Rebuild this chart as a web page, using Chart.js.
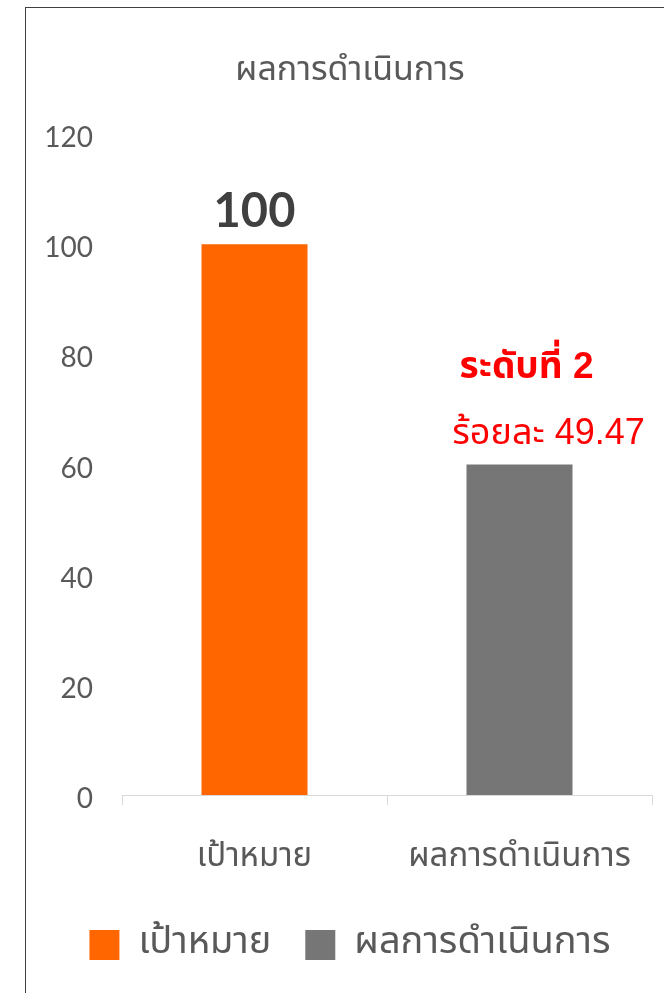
<!DOCTYPE html>
<html>
<head>
<meta charset="utf-8">
<script src="https://cdn.jsdelivr.net/npm/chart.js@4"></script>
<style>
  html, body { margin: 0; padding: 0; background: #fff; overflow: hidden; width: 664px; height: 993px; }
  #frame { position: absolute; left: 25px; top: 7px; width: 720px; height: 1100px; border: 1px solid #404040; }
  #myChart { position: absolute; left: 0; top: 0; }
</style>
</head>
<body>
<div id="frame"></div>
<canvas id="myChart" width="700" height="993"></canvas>
<script>
var categories = ['เป้าหมาย', 'ผลการดำเนินการ'];
var targetValues = [100, null];
var resultValues = [null, 60];
var seriesNames = ['เป้าหมาย', 'ผลการดำเนินการ'];
var noteLines = ['ระดับที่ 2', 'ร้อยละ 49.47'];

var thaiFont = "'Noto Sans Thai', 'Leelawadee UI', Tahoma, 'Noto Sans', sans-serif";
var numFont = "Lato, 'Open Sans', sans-serif";
var noteFont = "'Liberation Sans', Arial, " + thaiFont;

// value label over the target bar + red note over the result bar
var labelsPlugin = {
    id: 'labels',
    afterDatasetsDraw: function (chart) {
        var c = chart.ctx;
        c.save();
        c.textAlign = 'center';
        c.textBaseline = 'middle';

        var bar0 = chart.getDatasetMeta(0).data[0];
        c.font = 'bold 47px ' + numFont;
        c.fillStyle = '#404040';
        c.fillText(String(targetValues[0]), bar0.x, bar0.y - 32);

        var bar1 = chart.getDatasetMeta(1).data[1];
        c.fillStyle = '#FF0000';
        c.font = 'bold 37px ' + noteFont;
        c.fillText(noteLines[0], bar1.x + 7, bar1.y - 97);
        c.font = '36px ' + noteFont;
        c.fillText(noteLines[1], bar1.x + 29, bar1.y - 30);
        c.restore();
    }
};

var ctx = document.getElementById('myChart').getContext('2d');
var myChart = new Chart(ctx, {
    type: 'bar',
    data: {
        labels: categories,
        datasets: [{
            label: seriesNames[0],
            data: targetValues,
            backgroundColor: '#FF6600',
            borderWidth: 0
        }, {
            label: seriesNames[1],
            data: resultValues,
            backgroundColor: '#767676',
            borderWidth: 0
        }]
    },
    options: {
        responsive: false,
        animation: false,
        grouped: false,
        categoryPercentage: 1,
        barPercentage: 0.4,
        layout: { padding: { left: 0, right: 0, top: 0, bottom: 19 } },
        plugins: {
            title: {
                display: true,
                text: 'ผลการดำเนินการ',
                color: '#595959',
                font: { family: thaiFont, size: 34, weight: 'normal' },
                padding: { top: 53, bottom: 40.2 }
            },
            legend: {
                position: 'bottom',
                labels: {
                    boxWidth: 30,
                    boxHeight: 30,
                    padding: 34,
                    color: '#595959',
                    font: { family: thaiFont, size: 38 }
                }
            },
            tooltip: { enabled: false }
        },
        scales: {
            x: {
                grid: { display: true, drawOnChartArea: false, drawTicks: true, tickLength: 10, color: '#D9D9D9' },
                border: { display: true, color: '#D9D9D9', width: 1 },
                ticks: { color: '#595959', padding: 35, font: { family: thaiFont, size: 33 } },
                afterFit: function (s) { s.height = 97; }
            },
            y: {
                min: 0,
                max: 120,
                grid: { display: false },
                border: { display: false },
                ticks: { stepSize: 20, color: '#595959', padding: 21, labelOffset: 4, font: { family: numFont, size: 28 } },
                afterFit: function (s) { s.width = 122; }
            },
            y2: {
                position: 'right',
                grid: { display: false },
                border: { display: false },
                ticks: { display: false },
                afterFit: function (s) { s.width = 48; }
            }
        }
    },
    plugins: [labelsPlugin]
});
</script>
</body>
</html>
